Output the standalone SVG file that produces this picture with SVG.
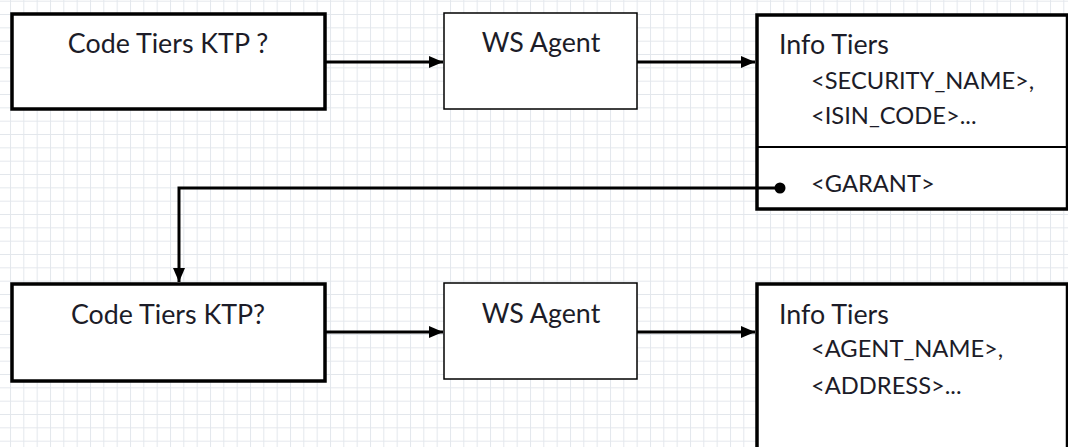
<svg xmlns="http://www.w3.org/2000/svg" width="1068" height="447" viewBox="0 0 1068 447">
  <style>
    .t { font-family: Lato, "Liberation Sans", sans-serif; font-size: 26.8px; fill: #1c1c28; }
    .u { font-size: 23.7px; }
    .mid { text-anchor: middle; }
    .thick { fill: #ffffff; stroke: #000000; stroke-width: 3.5; }
    .thin { fill: #ffffff; stroke: #000000; stroke-width: 1.5; }
    .conn { fill: none; stroke: #000000; stroke-width: 3; }
  </style>
  <defs>
    <pattern id="grid" patternUnits="userSpaceOnUse" x="10" y="0.7" width="13.333" height="13.333">
      <path d="M 0 0.5 H 13.333 M 0.5 0 V 13.333" fill="none" stroke="#e3e7ec" stroke-width="1"/>
    </pattern>
    <marker id="arrow" markerUnits="userSpaceOnUse" markerWidth="15" markerHeight="15" refX="14" refY="7.5" orient="auto">
      <path d="M 0 1.5 L 14 7.5 L 0 13.5 Z" fill="#000000"/>
    </marker>
  </defs>
  <rect x="0" y="0" width="1068" height="447" fill="#ffffff"/>
  <rect x="0" y="0" width="1068" height="447" fill="url(#grid)"/>

  <g id="code-tiers-1">
    <rect class="thick" x="12" y="14" width="313" height="95"/>
    <text class="t mid" x="168" y="53">Code Tiers KTP ?</text>
  </g>
  <g id="ws-agent-1">
    <rect class="thin" x="444" y="13" width="193" height="96"/>
    <text class="t mid" x="541" y="52">WS Agent</text>
  </g>
  <g id="info-tiers-1">
    <rect class="thick" x="757" y="15" width="310.5" height="194"/>
    <line x1="757" y1="147" x2="1068" y2="147" stroke="#000000" stroke-width="2"/>
    <text class="t" x="779" y="54">Info Tiers</text>
    <text class="t u" x="811" y="89">&lt;SECURITY_NAME&gt;,</text>
    <text class="t u" x="811" y="124">&lt;ISIN_CODE&gt;...</text>
    <text class="t u" x="811" y="192">&lt;GARANT&gt;</text>
  </g>
  <g id="code-tiers-2">
    <rect class="thick" x="12" y="284" width="313" height="97"/>
    <text class="t mid" x="168" y="324">Code Tiers KTP?</text>
  </g>
  <g id="ws-agent-2">
    <rect class="thin" x="444" y="283" width="193" height="96"/>
    <text class="t mid" x="541" y="323">WS Agent</text>
  </g>
  <g id="info-tiers-2">
    <rect class="thick" x="757" y="284" width="310.5" height="200"/>
    <text class="t" x="779" y="324">Info Tiers</text>
    <text class="t u" x="811" y="357">&lt;AGENT_NAME&gt;,</text>
    <text class="t u" x="811" y="394">&lt;ADDRESS&gt;...</text>
  </g>

  <g id="connectors">
    <line class="conn" x1="325" y1="62" x2="443" y2="62" marker-end="url(#arrow)"/>
    <line class="conn" x1="637" y1="62" x2="755" y2="62" marker-end="url(#arrow)"/>
    <polyline class="conn" points="780,188 179,188 179,282" marker-end="url(#arrow)"/>
    <circle cx="780" cy="188" r="5.5" fill="#000000"/>
    <line class="conn" x1="325" y1="332" x2="443" y2="332" marker-end="url(#arrow)"/>
    <line class="conn" x1="637" y1="332" x2="755" y2="332" marker-end="url(#arrow)"/>
  </g>
</svg>
